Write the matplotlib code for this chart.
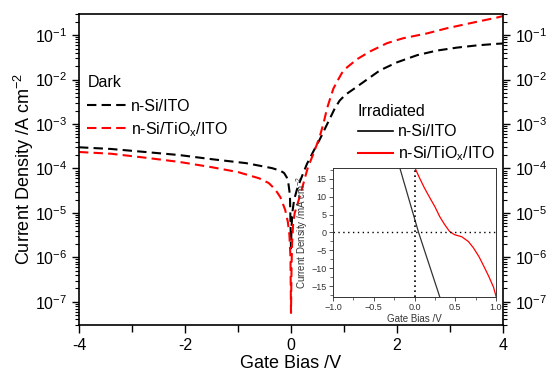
import matplotlib
matplotlib.use("Agg")
import matplotlib.pyplot as plt
from matplotlib.lines import Line2D
from matplotlib.ticker import MultipleLocator, NullFormatter, FixedLocator, FixedFormatter

plt.rcParams['font.family'] = ['Liberation Sans', 'DejaVu Sans']
plt.rcParams['mathtext.fontset'] = 'custom'
plt.rcParams['mathtext.rm'] = 'Liberation Sans'
plt.rcParams['mathtext.it'] = 'Liberation Sans:italic'
plt.rcParams['mathtext.bf'] = 'Liberation Sans:bold'

# ---- data: dark J-V (main, log scale, A cm^-2) ----
v_dark_ito = [-4.0, -3.4, -2.75, -2.1, -1.5, -0.85, -0.36, -0.2, -0.13, -0.08, -0.05,
              -0.02, 0.0, 0.01, 0.03, 0.06, 0.11, 0.16, 0.21, 0.30, 0.42, 0.55, 0.65,
              0.74, 0.83, 0.92, 1.03, 1.17, 1.36, 1.68, 2.0, 2.38, 2.75, 3.13, 3.51,
              3.89, 4.0]
j_dark_ito = [3.0e-4, 2.75e-4, 2.35e-4, 2.0e-4, 1.62e-4, 1.32e-4, 1.02e-4, 8.9e-5,
              7.9e-5, 6.3e-5, 4.7e-5, 2.5e-5, 1.6e-6, 5.0e-6, 1.12e-5, 2.0e-5, 3.3e-5,
              4.8e-5, 6.8e-5, 1.26e-4, 2.4e-4, 4.7e-4, 8.3e-4, 1.38e-3, 2.3e-3, 3.4e-3,
              4.6e-3, 6.0e-3, 8.7e-3, 1.62e-2, 2.45e-2, 3.55e-2, 4.5e-2, 5.25e-2,
              5.9e-2, 6.4e-2, 6.5e-2]

v_dark_tio = [-4.0, -3.4, -2.75, -2.1, -1.5, -1.0, -0.6, -0.42, -0.3, -0.2, -0.11,
              -0.06, -0.03, -0.01, 0.0, 0.01, 0.02, 0.04, 0.07, 0.11, 0.16, 0.21, 0.27,
              0.32, 0.42, 0.5, 0.55, 0.62, 0.68, 0.74, 0.8, 0.89, 0.96, 1.06, 1.25, 1.49,
              1.81, 2.11, 2.57, 2.94, 3.38, 3.89, 4.0]
j_dark_tio = [2.35e-4, 2.15e-4, 1.75e-4, 1.4e-4, 1.07e-4, 8.3e-5, 6.0e-5, 4.7e-5,
              3.4e-5, 2.25e-5, 1.17e-5, 6.3e-6, 3.2e-6, 1.0e-6, 5.6e-8, 6.3e-7, 2.0e-6,
              5.6e-6, 1.0e-5, 1.4e-5, 2.25e-5, 3.6e-5, 6.6e-5, 1.07e-4, 2.1e-4, 3.8e-4,
              5.6e-4, 1.12e-3, 2.25e-3, 3.8e-3, 6.3e-3, 1.0e-2, 1.41e-2, 1.9e-2, 2.9e-2,
              4.3e-2, 6.6e-2, 8.5e-2, 1.1e-1, 1.43e-1, 1.86e-1, 2.5e-1, 2.7e-1]

# ---- data: irradiated J-V (inset, linear, mA cm^-2) ----
v_irr_ito = [-0.18, 0.05, 0.31]
j_irr_ito = [18.0, 0.0, -18.0]

v_irr_tio = [0.01, 0.06, 0.12, 0.18, 0.25, 0.31, 0.37, 0.43, 0.49, 0.58, 0.66, 0.72,
             0.79, 0.85, 0.91, 0.97, 1.0]
j_irr_tio = [17.8, 15.3, 12.5, 10.0, 7.2, 4.4, 2.2, 0.3, -0.6, -1.2, -2.5, -4.2,
             -6.7, -9.4, -12.2, -15.3, -17.8]

x_ticks = [-4, -2, 0, 2, 4]
x_ticklabels = ['-4', '-2', '0', '2', '4']
y_exponents = [-7, -6, -5, -4, -3, -2, -1]

label_ito = "n-Si/ITO"
label_tio = "n-Si/TiO$_\\mathdefault{x}$/ITO"

fig = plt.figure(figsize=(5.47, 3.73), dpi=100)
ax = fig.add_axes([0.1444, 0.1287, 0.9196 - 0.1444, 0.9625 - 0.1287])

red = '#ff0000'
dash = (0, (4.5, 2.5))
ax.plot(v_dark_ito, j_dark_ito, color='black', lw=1.5, ls=dash)
ax.plot(v_dark_tio, j_dark_tio, color=red, lw=1.5, ls=dash)
ax.set_yscale('log')
ax.set_xlim(-4, 4)
ax.set_ylim(3e-8, 0.3)

ax.xaxis.set_major_locator(FixedLocator(x_ticks))
ax.xaxis.set_major_formatter(FixedFormatter(x_ticklabels))
ax.xaxis.set_minor_locator(FixedLocator([-3, -1, 1, 3]))
ax.yaxis.set_major_locator(FixedLocator([10.0 ** e for e in y_exponents]))
ax.yaxis.set_major_formatter(FixedFormatter(
    ["$\\mathdefault{10^{%d}}$" % e for e in y_exponents]))
minors = [m * 10.0 ** e for e in range(-8, 0) for m in range(2, 10)]
ax.yaxis.set_minor_locator(FixedLocator(minors))
ax.yaxis.set_minor_formatter(NullFormatter())
ax.tick_params(axis='both', which='major', labelsize=11.5, direction='out', length=5, width=1)
ax.tick_params(axis='both', which='minor', direction='out', length=3, width=0.8)
ax.tick_params(axis='x', which='major', length=6)
ax.tick_params(axis='x', which='minor', length=5, width=1)
ax.tick_params(axis='y', which='both', left=True, right=True, labelleft=True, labelright=True)
ax.tick_params(axis='x', which='both', top=False)
for s in ax.spines.values():
    s.set_linewidth(1.2)

ax.set_xlabel("Gate Bias /V", fontsize=13, labelpad=1)
ax.set_ylabel("Current Density /A cm$^{\\mathdefault{-2}}$", fontsize=13, labelpad=-1)

# Legends
h1 = [Line2D([], [], color='black', lw=1.5, ls=dash),
      Line2D([], [], color=red, lw=1.5, ls=dash)]
leg1 = ax.legend(h1, [label_ito, label_tio], title="Dark", loc='upper left',
                 bbox_to_anchor=(0.02, 0.803), frameon=False, fontsize=11.5,
                 title_fontsize=11.5, handlelength=2.4, handletextpad=0.3,
                 labelspacing=0.4, borderpad=0, borderaxespad=0)
leg1._legend_box.align = "left"
leg1._legend_box.sep = 6
ax.add_artist(leg1)

h2 = [Line2D([], [], color='black', lw=1.2),
      Line2D([], [], color=red, lw=1.5)]
leg2 = ax.legend(h2, [label_ito, label_tio], title="Irradiated", loc='upper left',
                 bbox_to_anchor=(0.657, 0.712), frameon=False, fontsize=11.5,
                 title_fontsize=11.5, handlelength=2.2, handletextpad=0.35,
                 labelspacing=0.35, borderpad=0, borderaxespad=0)
leg2._legend_box.align = "left"

# Inset
ins = fig.add_axes([0.6088, 0.2038, 0.9068 - 0.6088, 0.5496 - 0.2038])
ins.plot(v_irr_ito, j_irr_ito, color='#333333', lw=0.9)
ins.plot(v_irr_tio, j_irr_tio, color=red, lw=0.9)
ins.axhline(0, color='black', lw=1, ls=(0, (1, 2.5)))
ins.axvline(0, color='black', lw=1.2, ls=(0, (1, 2)))
ins.set_xlim(-1, 1)
ins.set_ylim(-18, 18)
ins.xaxis.set_major_locator(MultipleLocator(0.5))
ins.xaxis.set_minor_locator(MultipleLocator(0.25))
ins.yaxis.set_major_locator(MultipleLocator(5))
ins.yaxis.set_minor_locator(MultipleLocator(2.5))
ins.tick_params(which='both', labelsize=6.5, direction='out', colors='#333333', pad=1.5)
ins.tick_params(which='major', length=3, width=0.6)
ins.tick_params(which='minor', length=2, width=0.5)
for s in ins.spines.values():
    s.set_linewidth(0.7)
    s.set_color('#333333')
ins.set_xlabel("Gate Bias /V", fontsize=7, labelpad=1, color='#333333')
ins.set_ylabel("Current Density /mA cm$^{\\mathdefault{-2}}$", fontsize=7, labelpad=1, color='#333333')

fig.savefig("out.png", dpi=100)
